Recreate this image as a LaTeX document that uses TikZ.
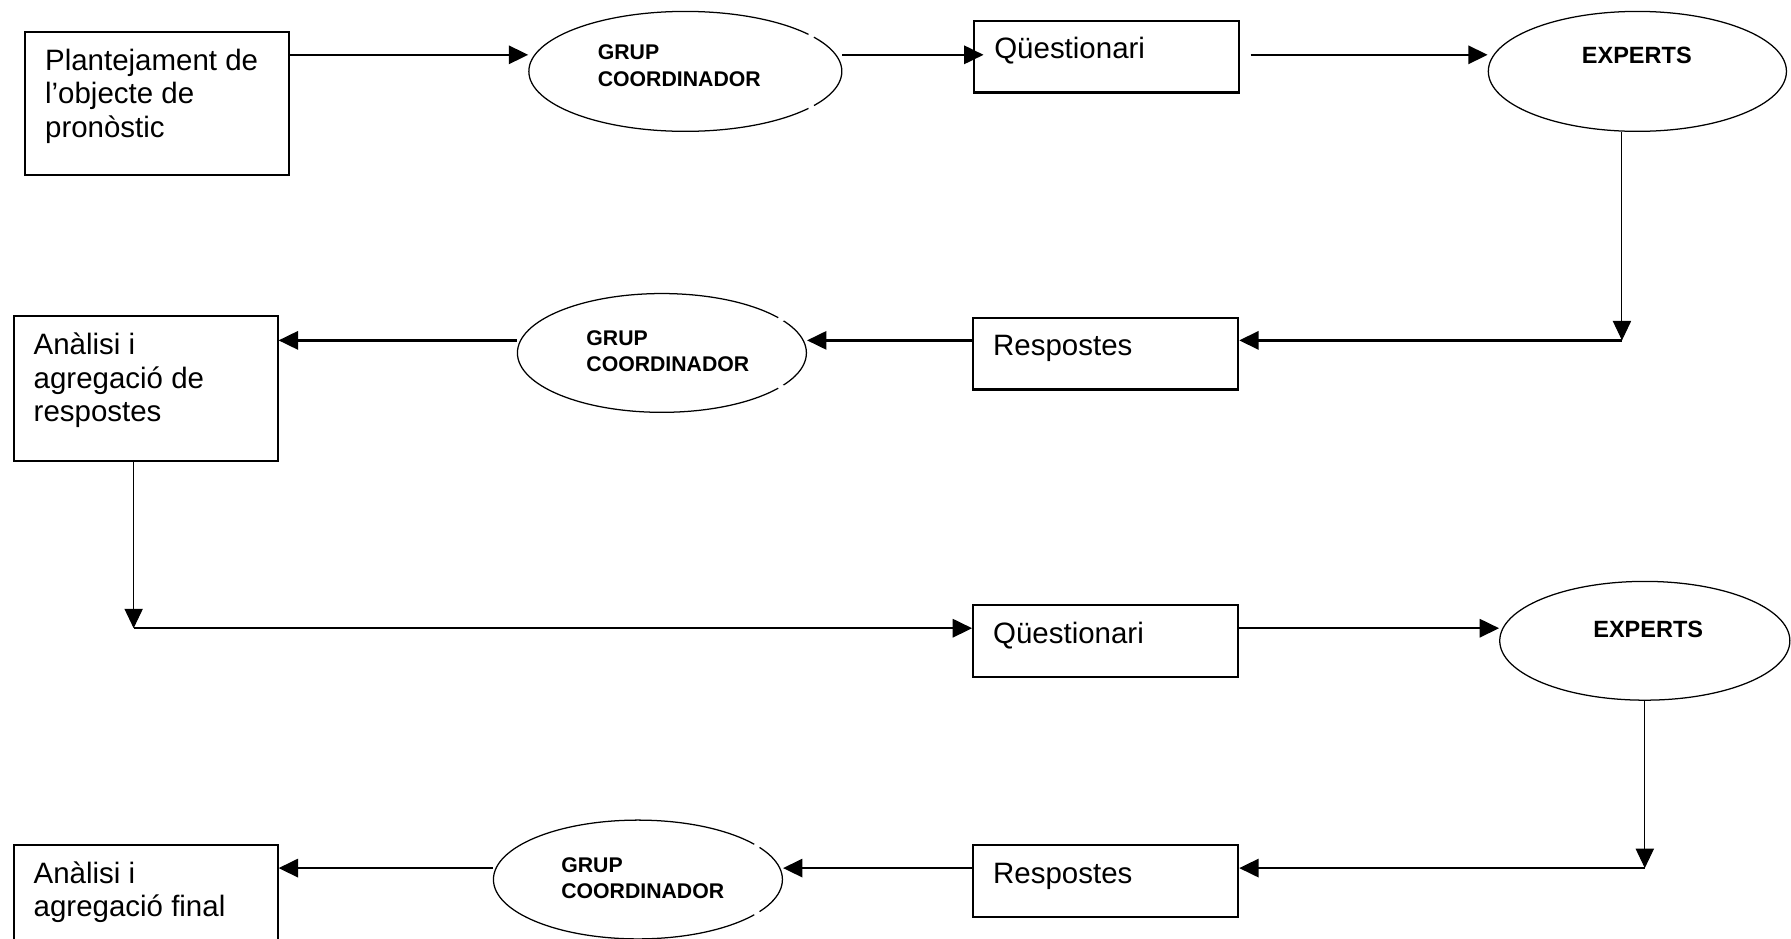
\documentclass[tikz,border=0pt]{standalone}
\usepackage{fontspec}
\setmainfont{Liberation Sans}
\usetikzlibrary{arrows.meta,shapes.geometric}

% lines stacked under a first baseline
\newcommand{\linestack}[1]{\vtop{\halign{##\hfil\cr#1\crcr}}}

\begin{document}
\begin{tikzpicture}[x=0.5pt,y=-0.5pt,
  box/.style={draw, line width=0.9pt, inner sep=0pt, minimum width=116pt, minimum height=31.5pt},
  tallbox/.style={box, minimum width=115.5pt, minimum height=63pt},
  oval/.style={draw, ellipse, line width=0.55pt, inner sep=0pt, minimum height=52pt},
  boxtext/.style={anchor=base west, inner sep=0pt, font=\fontsize{12.9}{14.7}\selectfont},
  grouptext/.style={anchor=base west, inner sep=0pt, font=\fontsize{9.3}{11.5}\selectfont\bfseries},
  experttext/.style={anchor=base, inner sep=0pt, font=\fontsize{10.3}{12}\selectfont\bfseries},
  flow/.style={line width=1pt, -{Triangle[length=8.5pt,width=8pt]}},
  drop/.style={line width=0.45pt, -{Triangle[length=8.5pt,width=8pt]}},
  inset/.style={shift={(9pt,-17.25pt)}}
]
\path[use as bounding box] (0,0) rectangle (1568,822);
\clip (0,0) rectangle (1568,822);

% rectangular steps
\node[tallbox, minimum height=62.5pt] (plan) at (137.5,90.5) {};
\node[box] (q1) at (969,49.5) {};
\node[box] (r1) at (968,309.5) {};
\node[tallbox, minimum height=63.5pt] (an1) at (127.5,340.5) {};
\node[box] (q2) at (968,561.5) {};
\node[box] (r2) at (968,771.5) {};
\node[tallbox, minimum height=63.5pt] (an2) at (127.5,803) {};

% actors
\node[oval, minimum width=137pt, minimum height=52.5pt] (g1) at (600,62.5) {};
\node[oval, minimum width=130.5pt, minimum height=52.5pt] (x1) at (1433.5,62.5) {};
\node[oval, minimum width=126.5pt] (g2) at (579.5,309) {};
\node[oval, minimum width=127pt] (x2) at (1440,561) {};
\node[oval, minimum width=126.5pt] (g3) at (558.5,770) {};

% small breaks in the group outlines
\foreach \e in {g1,g2,g3}{
  \fill[white] (\e.16) circle (1.4pt);
  \fill[white] (\e.-16) circle (1.4pt);
}

% labels of the steps
\node[boxtext] (plan-t) at ([inset]plan.north west) {\linestack{Plantejament de\cr l’objecte de\cr pronòstic}};
\node[boxtext] (q1-t) at ([inset]q1.north west) {Qüestionari};
\node[boxtext] (r1-t) at ([inset]r1.north west) {Respostes};
\node[boxtext] (an1-t) at ([inset]an1.north west) {\linestack{Anàlisi i\cr agregació de\cr respostes}};
\node[boxtext] (q2-t) at ([inset]q2.north west) {Qüestionari};
\node[boxtext] (r2-t) at ([inset]r2.north west) {Respostes};
\node[boxtext] (an2-t) at ([inset]an2.north west) {\linestack{Anàlisi i\cr agregació final}};

% labels of the actors
\node[grouptext] (g1-t) at (523,52.5) {\linestack{GRUP\cr COORDINADOR}};
\node[grouptext] (g2-t) at (513,302.5) {\linestack{GRUP\cr COORDINADOR}};
\node[grouptext] (g3-t) at (491,763.5) {\linestack{GRUP\cr COORDINADOR}};
\node[experttext] (x1-t) at (1433,55.4) {EXPERTS};
\node[experttext] (x2-t) at (1443,558.4) {EXPERTS};

% levels and corners of the flow
\coordinate (lvl1) at (0,48);
\coordinate (lvl2) at (0,298);
\coordinate (lvl3) at (0,550);
\coordinate (lvl4) at (0,760);
\coordinate (turn1) at (1420,298);
\coordinate (turn2) at (117,550);
\coordinate (turn3) at (1440,760);

% first round
\draw[flow] (plan.east |- lvl1) -- (g1.west |- lvl1);
\draw[flow, shorten >=-4.5pt] (g1.east |- lvl1) -- (q1.west |- lvl1);
\draw[flow, shorten <=4.5pt] (q1.east |- lvl1) -- (x1.west |- lvl1);
\draw[drop] (x1.south -| turn1) -- (turn1);
\draw[flow] (turn1) -- (r1.east |- turn1);
\draw[flow] (r1.west |- lvl2) -- (g2.east |- lvl2);
\draw[flow] (g2.west |- lvl2) -- (an1.east |- lvl2);

% second round
\draw[drop] (an1.south -| turn2) -- (turn2);
\draw[flow] (turn2) -- (q2.west |- turn2);
\draw[flow] (q2.east |- lvl3) -- (x2.west |- lvl3);
\draw[drop] (x2.south -| turn3) -- (turn3);
\draw[flow] (turn3) -- (r2.east |- turn3);
\draw[flow] (r2.west |- lvl4) -- (g3.east |- lvl4);
\draw[flow] (g3.west |- lvl4) -- (an2.east |- lvl4);
\end{tikzpicture}
\end{document}
